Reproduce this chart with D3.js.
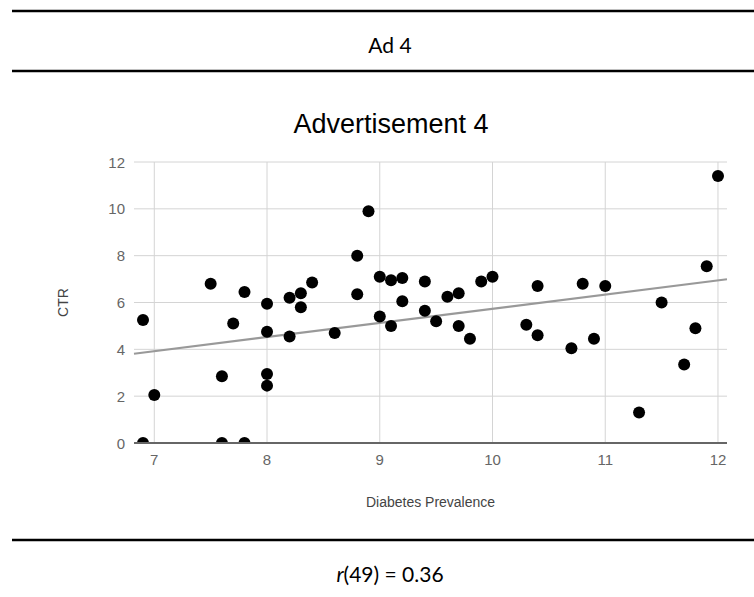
<!DOCTYPE html>
<html>
<head>
<meta charset="utf-8">
<script src="https://cdn.jsdelivr.net/npm/d3@7"></script>
<style>
  body { margin: 0; background: #fff; }
  svg { display: block; }
</style>
</head>
<body>
<svg width="754" height="597"></svg>
<script>
// values
var prevalence = [6.9, 6.9, 7.0, 7.5, 7.6, 7.6, 7.7, 7.8, 7.8, 8.0, 8.0, 8.0, 8.0, 8.2, 8.2, 8.3, 8.3, 8.4, 8.6, 8.8, 8.8, 8.9,
                  9.0, 9.0, 9.1, 9.1, 9.2, 9.2, 9.4, 9.4, 9.5, 9.6, 9.7, 9.7, 9.8, 9.9, 10.0, 10.3, 10.4, 10.4,
                  10.7, 10.8, 10.9, 11.0, 11.3, 11.5, 11.7, 11.8, 11.9, 12.0];
var ctr =        [5.25, 0, 2.05, 6.8, 2.85, 0, 5.1, 6.45, 0, 5.95, 4.75, 2.95, 2.45, 6.2, 4.55, 6.4, 5.8, 6.85, 4.7, 8.0, 6.35, 9.9,
                  7.1, 5.4, 6.95, 5.0, 7.05, 6.05, 6.9, 5.65, 5.2, 6.25, 6.4, 5.0, 4.45, 6.9, 7.1, 5.05, 6.7, 4.6,
                  4.05, 6.8, 4.45, 6.7, 1.3, 6.0, 3.35, 4.9, 7.55, 11.4];
var xTicks = [7, 8, 9, 10, 11, 12];
var yTicks = [0, 2, 4, 6, 8, 10, 12];
var trend = { slope: 0.605, intercept: -0.316 };   // trendline as drawn in the picture

var svg = d3.select("svg"),
    width = +svg.attr("width");

var plot = { left: 134, right: 727, top: 162, bottom: 443 };

var x = d3.scaleLinear().domain([6.82, 12.08]).range([plot.left, plot.right]);
var y = d3.scaleLinear().domain([0, 12]).range([plot.bottom, plot.top]);

// header / footer rules
[11, 71, 540].forEach(function(yy) {
  svg.append("line")
      .attr("x1", 12).attr("x2", width)
      .attr("y1", yy).attr("y2", yy)
      .attr("stroke", "#000").attr("stroke-width", 2.5);
});

svg.append("text")
    .attr("x", 390).attr("y", 53)
    .attr("text-anchor", "middle")
    .style("font-family", "Lato, 'Open Sans', sans-serif")
    .style("font-size", "21px")
    .text("Ad 4");

var foot = svg.append("text")
    .attr("x", 390).attr("y", 582)
    .attr("text-anchor", "middle")
    .style("font-family", "Lato, 'Open Sans', sans-serif")
    .style("font-size", "21px");
foot.append("tspan").style("font-style", "italic").text("r");
foot.append("tspan").text("(49) = 0.36");

// chart title
svg.append("text")
    .attr("x", 391).attr("y", 133)
    .attr("text-anchor", "middle")
    .style("font-family", "'Liberation Sans', Arial, sans-serif")
    .style("font-size", "27px")
    .attr("fill", "#000")
    .text("Advertisement 4");

// gridlines
svg.append("g").selectAll("line")
    .data(yTicks.filter(function(d) { return d > 0; }))
    .enter().append("line")
      .attr("x1", plot.left).attr("x2", plot.right)
      .attr("y1", function(d) { return y(d); })
      .attr("y2", function(d) { return y(d); })
      .attr("stroke", "#d4d4d4").attr("stroke-width", 1);

svg.append("g").selectAll("line")
    .data(xTicks)
    .enter().append("line")
      .attr("x1", function(d) { return x(d); })
      .attr("x2", function(d) { return x(d); })
      .attr("y1", plot.top).attr("y2", plot.bottom)
      .attr("stroke", "#d4d4d4").attr("stroke-width", 1);

// tick labels
svg.append("g").selectAll("text")
    .data(yTicks)
    .enter().append("text")
      .attr("x", plot.left - 9)
      .attr("y", function(d) { return y(d) + 5.5; })
      .attr("text-anchor", "end")
      .attr("fill", "#666")
      .style("font-family", "'Liberation Sans', Arial, sans-serif")
      .style("font-size", "15px")
      .text(function(d) { return d; });

svg.append("g").selectAll("text")
    .data(xTicks)
    .enter().append("text")
      .attr("x", function(d) { return x(d); })
      .attr("y", 465)
      .attr("text-anchor", "middle")
      .attr("fill", "#666")
      .style("font-family", "'Liberation Sans', Arial, sans-serif")
      .style("font-size", "15px")
      .text(function(d) { return d; });

// axis titles
svg.append("text")
    .attr("x", (plot.left + plot.right) / 2).attr("y", 507)
    .attr("text-anchor", "middle")
    .attr("fill", "#444")
    .style("font-family", "'Liberation Sans', Arial, sans-serif")
    .style("font-size", "14px")
    .text("Diabetes Prevalence");

svg.append("text")
    .attr("transform", "translate(68," + ((plot.top + plot.bottom) / 2) + ") rotate(-90)")
    .attr("text-anchor", "middle")
    .attr("fill", "#444")
    .style("font-family", "'Liberation Sans', Arial, sans-serif")
    .style("font-size", "14px")
    .text("CTR");

// clip to the plot area so points on zero are cut in half
svg.append("clipPath").attr("id", "clip")
  .append("rect")
    .attr("x", plot.left).attr("y", plot.top - 10)
    .attr("width", plot.right - plot.left + 10)
    .attr("height", plot.bottom - plot.top + 10);

var xs = x.domain();
svg.append("line")
    .attr("x1", x(xs[0])).attr("y1", y(trend.slope * xs[0] + trend.intercept))
    .attr("x2", x(xs[1])).attr("y2", y(trend.slope * xs[1] + trend.intercept))
    .attr("stroke", "#999").attr("stroke-width", 2.2);

svg.append("g")
    .attr("clip-path", "url(#clip)")
  .selectAll("circle")
  .data(prevalence)
  .enter().append("circle")
    .attr("cx", function(d) { return x(d); })
    .attr("cy", function(d, i) { return y(ctr[i]); })
    .attr("r", 6)
    .attr("fill", "#000");

// baseline
svg.append("line")
    .attr("x1", plot.left).attr("x2", plot.right)
    .attr("y1", y(0)).attr("y2", y(0))
    .attr("stroke", "#666").attr("stroke-width", 2);
</script>
</body>
</html>
